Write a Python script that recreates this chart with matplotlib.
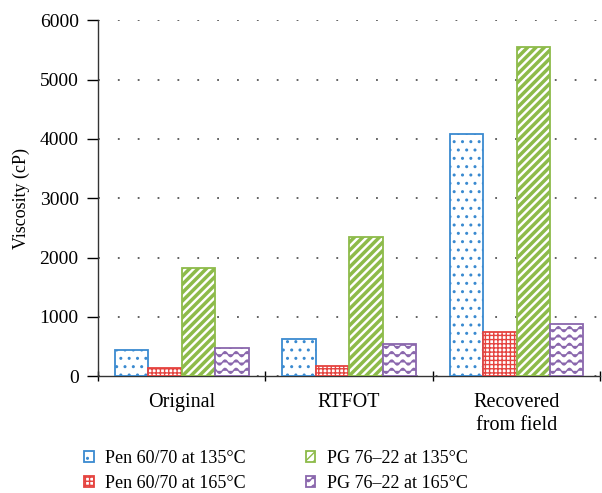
import warnings
warnings.filterwarnings("ignore")
import numpy as np
import matplotlib
matplotlib.use("Agg")
import matplotlib.pyplot as plt
import matplotlib.hatch as mhatch
from matplotlib.path import Path

categories = ["Original", "RTFOT", "Recovered\nfrom field"]
series_names = ["Pen 60/70 at 135°C", "Pen 60/70 at 165°C",
                "PG 76–22 at 135°C", "PG 76–22 at 165°C"]
pen_135 = [440, 620, 4080]
pen_165 = [135, 165, 740]
pg_135 = [1820, 2345, 5550]
pg_165 = [470, 540, 875]
yticks = [0, 1000, 2000, 3000, 4000, 5000, 6000]


class WaveHatch(mhatch.HatchPatternBase):
    N = 90

    def __init__(self, hatch, density):
        self.num_lines = int(hatch.count('~') * density)
        self.num_vertices = self.num_lines * self.N

    def set_vertices_and_codes(self, vertices, codes):
        if not self.num_lines:
            return
        N = self.N
        t = np.linspace(0, 1, N)
        for i in range(self.num_lines):
            y0 = (i + 0.5) / self.num_lines
            ys = y0 + 0.3 / self.num_lines * np.sin(2 * np.pi * 9 * t)
            vertices[i * N:(i + 1) * N, 0] = t
            vertices[i * N:(i + 1) * N, 1] = ys
            codes[i * N] = Path.MOVETO
            codes[i * N + 1:(i + 1) * N] = Path.LINETO


mhatch._hatch_types.append(WaveHatch)

plt.rcParams['font.family'] = ['Liberation Serif', 'DejaVu Serif']
plt.rcParams['font.size'] = 14

fig = plt.figure(figsize=(6.02, 4.93), dpi=100)
ax = fig.add_axes([0.163, 0.237, 0.834, 0.722])

colors = ["#3a8ad0", "#e5433f", "#8dbb4a", "#8a67ad"]
hatches = ["..", "++++", "////", "~~"]
hlw = [1.0, 1.0, 2.5, 1.0]
data = [pen_135, pen_165, pg_135, pg_165]
x = np.arange(len(categories))
w = 0.2
for i, (vals, c, h, lw) in enumerate(zip(data, colors, hatches, hlw)):
    with plt.rc_context({'hatch.linewidth': lw}):
        ax.bar(x + (i - 1.5) * w, vals, w, facecolor='white', edgecolor=c,
               hatch=h, linewidth=1.3, label=series_names[i], zorder=3)

ax.set_xlim(-0.5, 2.5)
ax.set_ylim(0, 6000)
ax.set_yticks(yticks)
ax.set_yticklabels([str(v) for v in yticks], fontsize=14)
ax.set_xticks(x)
ax.set_xticklabels(categories, fontsize=14.5, linespacing=1.3)
ax.set_xticks([-0.5, 0.5, 1.5, 2.5], minor=True)
ax.tick_params(axis='x', which='major', length=0, pad=12)
ax.tick_params(axis='x', which='minor', length=7, direction='inout', width=1)
ax.tick_params(axis='y', length=8, direction='out', width=1, pad=6)
ax.yaxis.grid(True, linestyle=(0, (1, 10)), color='#555555', linewidth=1.3)
ax.set_axisbelow(True)
for s in ['top', 'right']:
    ax.spines[s].set_visible(False)
for s in ['left', 'bottom']:
    ax.spines[s].set_color('#333333')
    ax.spines[s].set_linewidth(1.0)
ax.set_ylabel("Viscosity (cP)", fontsize=13)
ax.yaxis.set_label_coords(-0.135, 0.5)

handles, labels = ax.get_legend_handles_labels()
leg = fig.legend(handles, labels,
                 loc='lower left', bbox_to_anchor=(0.112, -0.031), ncol=2,
                 frameon=False, handlelength=0.55, handleheight=0.55,
                 columnspacing=3.3, handletextpad=0.65, labelspacing=0.45,
                 fontsize=13)

fig.savefig("out.png", dpi=100)
